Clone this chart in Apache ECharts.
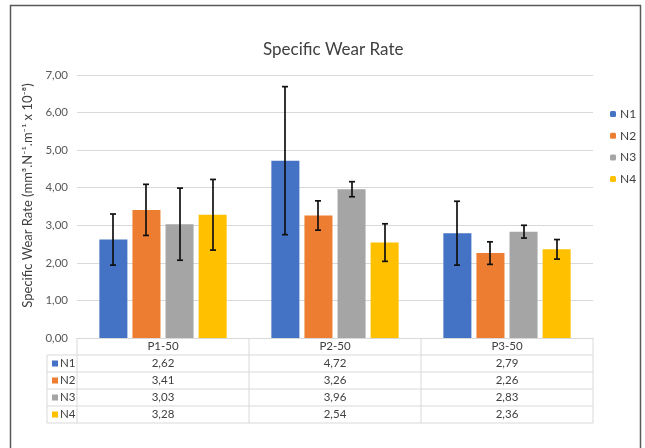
<!DOCTYPE html>
<html><head><meta charset="utf-8">
<script src="https://cdn.jsdelivr.net/npm/echarts@6/dist/echarts.min.js"></script>
<style>html,body{margin:0;padding:0;background:#fff}#c{width:645px;height:448px}</style>
</head><body><div id="c"></div>
<script>
const categories = ['P1-50', 'P2-50', 'P3-50'];
const seriesNames = ['N1', 'N2', 'N3', 'N4'];
const colors = ['#4472C4', '#ED7D31', '#A5A5A5', '#FFC000'];
const n1 = [2.62, 4.72, 2.79];
const n2 = [3.41, 3.26, 2.26];
const n3 = [3.03, 3.96, 2.83];
const n4 = [3.28, 2.54, 2.36];
const n1Err = [0.68, 1.97, 0.85];
const n2Err = [0.68, 0.39, 0.30];
const n3Err = [0.96, 0.20, 0.17];
const n4Err = [0.94, 0.50, 0.26];
const yTicks = [0, 1, 2, 3, 4, 5, 6, 7];

const values = [n1, n2, n3, n4];
const errs = [n1Err, n2Err, n3Err, n4Err];
const FONT = 'Lato';
const fmt = v => v.toFixed(2).replace('.', ',');

const GRID = { left: 77, right: 52, top: 75, bottom: 110 };
const BAR_CAT_GAP = 0.26, BAR_GAP = 0.18;

const chart = echarts.init(document.getElementById('c'));

function errRender(sIdx) {
  return function (params, api) {
    const x = api.value(0), y = api.value(1), e = api.value(2);
    const bw = api.size([1, 0])[0];
    const usable = bw - bw * BAR_CAT_GAP;
    const barW = usable / (4 + 3 * BAR_GAP);
    const total = barW * 4 + barW * BAR_GAP * 3;
    const off = -total / 2 + sIdx * barW * (1 + BAR_GAP) + barW / 2;
    const top = api.coord([x, y + e]);
    const bot = api.coord([x, y - e]);
    const cx = Math.round(top[0] + off);
    const cap = 3;
    const st = { stroke: '#111', lineWidth: 1.7 };
    return { type: 'group', children: [
      { type: 'line', shape: { x1: cx, y1: top[1], x2: cx, y2: bot[1] }, style: st },
      { type: 'line', shape: { x1: cx - cap, y1: top[1], x2: cx + cap, y2: top[1] }, style: st },
      { type: 'line', shape: { x1: cx - cap, y1: bot[1], x2: cx + cap, y2: bot[1] }, style: st }
    ]};
  };
}

const series = [];
seriesNames.forEach((n, i) => {
  series.push({
    name: n, type: 'bar', data: values[i],
    barCategoryGap: (BAR_CAT_GAP * 100) + '%', barGap: (BAR_GAP * 100) + '%',
    itemStyle: { color: colors[i] }, z: 2
  });
});
seriesNames.forEach((n, i) => {
  series.push({
    name: 'err' + n, type: 'custom', z: 5,
    renderItem: errRender(i),
    data: categories.map((c, k) => [k, values[i][k], errs[i][k]]),
    encode: { x: 0, y: 1 }, silent: true
  });
});

chart.setOption({
  animation: false,
  textStyle: { fontFamily: FONT },
  title: { text: 'Specific Wear Rate', left: 258, top: 36,
    textStyle: { fontFamily: FONT, fontSize: 17, fontWeight: 'normal', color: '#404040' } },
  legend: { data: seriesNames, orient: 'vertical', left: 605, top: 103,
    itemWidth: 6, itemHeight: 6, itemGap: 9.7,
    textStyle: { fontFamily: FONT, fontSize: 12, color: '#404040', padding: [0, 0, 0, -1] } },
  grid: GRID,
  xAxis: { type: 'category', data: categories,
    axisLine: { lineStyle: { color: '#d9d9d9' } },
    axisTick: { show: false }, axisLabel: { show: false } },
  yAxis: { type: 'value', min: yTicks[0], max: yTicks[yTicks.length - 1], interval: 1,
    name: 'Specific Wear Rate (mm³.N⁻¹.m⁻¹ x 10⁻⁸)', nameLocation: 'middle', nameGap: 39,
    nameTextStyle: { fontFamily: FONT, fontSize: 13, color: '#404040', padding: [0, 0, 0, 22] },
    axisLine: { show: false }, axisTick: { show: false },
    axisLabel: { formatter: v => fmt(v), fontFamily: FONT, fontSize: 11.5, color: '#595959', margin: 9 },
    splitLine: { lineStyle: { color: '#d9d9d9' } } },
  series: series
});

// data table below the plot, positioned from the axis
function buildTable() {
  const bw = chart.convertToPixel({ xAxisIndex: 0 }, 1) - chart.convertToPixel({ xAxisIndex: 0 }, 0);
  const centers = categories.map((c, k) => chart.convertToPixel({ xAxisIndex: 0 }, k));
  const axisY = chart.convertToPixel({ yAxisIndex: 0 }, 0);
  const rowH = 17;
  const x0 = centers[0] - bw / 2, x1 = centers[centers.length - 1] + bw / 2;
  const hx0 = x0 - 30;
  const lc = '#d9d9d9';
  const els = [];
  for (let k = 0; k <= categories.length; k++) {
    const x = x0 + k * bw;
    els.push({ type: 'line', shape: { x1: x, y1: axisY, x2: x, y2: axisY + rowH * 5 }, style: { stroke: lc, lineWidth: 1 } });
  }
  els.push({ type: 'line', shape: { x1: hx0, y1: axisY + rowH, x2: hx0, y2: axisY + rowH * 5 }, style: { stroke: lc, lineWidth: 1 } });
  for (let r = 1; r <= 5; r++) {
    els.push({ type: 'line', shape: { x1: hx0, y1: axisY + rowH * r, x2: x1, y2: axisY + rowH * r }, style: { stroke: lc, lineWidth: 1 } });
  }
  categories.forEach((c, k) => {
    els.push({ type: 'text', style: { text: c, x: centers[k], y: axisY + rowH / 2, textAlign: 'center', textVerticalAlign: 'middle',
      fontFamily: FONT, fontSize: 11.5, fill: '#404040' } });
  });
  seriesNames.forEach((n, i) => {
    const yc = axisY + rowH * (i + 1) + rowH / 2;
    els.push({ type: 'rect', shape: { x: hx0 + 5, y: yc - 3, width: 6, height: 6 }, style: { fill: colors[i] } });
    els.push({ type: 'text', style: { text: n, x: hx0 + 13, y: yc, textAlign: 'left', textVerticalAlign: 'middle',
      fontFamily: FONT, fontSize: 11.5, fill: '#404040' } });
    categories.forEach((c, k) => {
      els.push({ type: 'text', style: { text: fmt(values[i][k]), x: centers[k], y: yc, textAlign: 'center', textVerticalAlign: 'middle',
        fontFamily: FONT, fontSize: 11.5, fill: '#404040' } });
    });
  });
  els.push({ type: 'rect', shape: { x: 10.5, y: 5.5, width: 630, height: 460 }, style: { fill: null, stroke: '#595959', lineWidth: 1.5 }, z: 10 });
  chart.setOption({ graphic: { elements: els } });
}
buildTable();
</script></body></html>
